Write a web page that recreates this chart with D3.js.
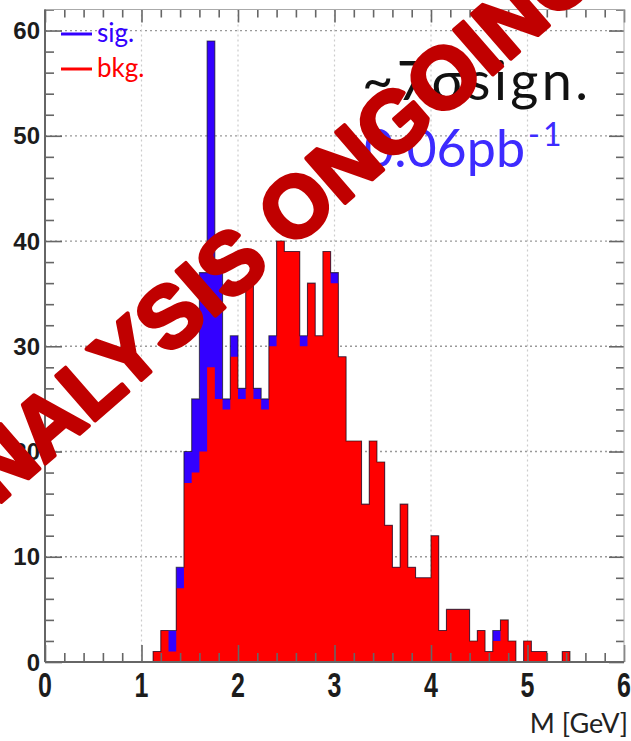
<!DOCTYPE html>
<html>
<head>
<meta charset="utf-8">
<script src="https://cdn.jsdelivr.net/npm/d3@7"></script>
<style>
  body { margin: 0; background: #fff; }
  svg { display: block; }
</style>
</head>
<body>
<svg id="chart" width="631" height="741"></svg>
<script>
// Invariant-mass histogram, 75 bins on [0, 6] GeV (bin width 0.08)
const nBins = 75;
const xMin = 0;
const xMax = 6;
const firstFilledBin = 14;   // bin 14 starts at 1.12 GeV

// background counts per bin, starting at firstFilledBin
const bkgCounts = [
  1, 3, 1, 7, 17, 18, 20, 28, 25, 24,
  29, 25, 36, 25, 24, 30, 40, 39, 39, 30,
  36, 31, 39, 36, 29, 21, 21, 15, 21, 19,
  13, 9, 15, 9, 8, 8, 12, 3, 5, 5,
  5, 2, 3, 1, 2, 4, 2, 0, 2, 1,
  1, 0, 0, 1
];
// signal counts per bin, stacked on top of the background
const sigCounts = [
  0, 0, 2, 2, 3, 7, 17, 31, 12, 1,
  2, 1, 0, 1, 1, 1, 0, 0, 0, 1,
  0, 0, 0, 1, 0, 0, 0, 0, 0, 0,
  0, 0, 0, 0, 0, 0, 0, 0, 0, 0,
  0, 0, 0, 0, 1, 0, 0, 0, 0, 0,
  0, 0, 0, 0
];

const xTickLabels = [0, 1, 2, 3, 4, 5, 6];
const yTickLabels = [0, 10, 20, 30, 40, 50, 60];
const yMax = 62;

const legendItems = [
  { label: "sig.", color: "#3300ff" },
  { label: "bkg.", color: "#ff0000" }
];

const svg = d3.select("#chart");

const frame = { left: 45, right: 624, top: 9.5, bottom: 662 };
const x = d3.scaleLinear().domain([xMin, xMax]).range([frame.left, frame.right]);
const y = d3.scaleLinear().domain([0, yMax]).range([frame.bottom, frame.top]);

const binWidth = (xMax - xMin) / nBins;
const bins = bkgCounts.map((b, i) => {
  const lo = xMin + (firstFilledBin + i) * binWidth;
  return { lo, hi: lo + binWidth, bkg: b, total: b + sigCounts[i] };
});

// ---- grid ----
const grid = svg.append("g");
grid.selectAll("line.gy")
  .data(yTickLabels.filter(v => v > 0))
  .join("line")
  .attr("x1", frame.left).attr("x2", frame.right)
  .attr("y1", d => y(d)).attr("y2", d => y(d))
  .attr("stroke", "#999").attr("stroke-width", 1.3)
  .attr("stroke-dasharray", "2,3");
grid.selectAll("line.gx")
  .data(xTickLabels.filter(v => v > xMin && v < xMax))
  .join("line")
  .attr("x1", d => x(d)).attr("x2", d => x(d))
  .attr("y1", frame.top).attr("y2", frame.bottom)
  .attr("stroke", "#ccc").attr("stroke-width", 1.2)
  .attr("stroke-dasharray", "2,3");

// ---- stacked histogram ----
function stepPoints(key) {
  const pts = [{ x: bins[0].lo, v: 0 }];
  bins.forEach(b => pts.push({ x: b.lo, v: b[key] }));
  const last = bins[bins.length - 1];
  pts.push({ x: last.hi, v: last[key] });
  pts.push({ x: last.hi, v: 0 });
  return pts;
}
const area = d3.area()
  .curve(d3.curveStepAfter)
  .x(d => x(d.x)).y0(y(0)).y1(d => y(d.v));
const line = d3.line()
  .curve(d3.curveStepAfter)
  .x(d => x(d.x)).y(d => y(d.v));

const hist = svg.append("g");
hist.append("path").datum(stepPoints("total"))
  .attr("d", area).attr("fill", "#3300ff");
hist.append("path").datum(stepPoints("bkg"))
  .attr("d", area).attr("fill", "#ff0000");
hist.append("path").datum(stepPoints("total"))
  .attr("d", line).attr("fill", "none")
  .attr("stroke", "#111").attr("stroke-opacity", 0.65).attr("stroke-width", 1.1);

// ---- axes ----
const axisColor = "#666";
function styleAxis(g) {
  g.select(".domain").remove();
  g.selectAll(".tick line").attr("stroke", axisColor).attr("stroke-width", 1.6);
  g.selectAll(".tick text").remove();
}
const minorX = d3.range(xMin, xMax + 1e-9, 0.2).filter(v => Math.abs(v - Math.round(v)) > 1e-6);
const minorY = d3.range(0, yMax + 1e-9, 2).filter(v => v % 10 !== 0);

// bottom
svg.append("g").attr("transform", `translate(0,${frame.bottom})`)
  .call(d3.axisBottom(x).tickValues(xTickLabels).tickSize(-17).tickSizeOuter(0)).call(styleAxis);
svg.append("g").attr("transform", `translate(0,${frame.bottom})`)
  .call(d3.axisBottom(x).tickValues(minorX).tickSize(-9).tickSizeOuter(0)).call(styleAxis);
// top
svg.append("g").attr("transform", `translate(0,${frame.top})`)
  .call(d3.axisTop(x).tickValues(xTickLabels).tickSize(-13).tickSizeOuter(0)).call(styleAxis);
svg.append("g").attr("transform", `translate(0,${frame.top})`)
  .call(d3.axisTop(x).tickValues(minorX).tickSize(-8).tickSizeOuter(0)).call(styleAxis);
// left
svg.append("g").attr("transform", `translate(${frame.left},0)`)
  .call(d3.axisLeft(y).tickValues(yTickLabels).tickSize(-17).tickSizeOuter(0)).call(styleAxis);
svg.append("g").attr("transform", `translate(${frame.left},0)`)
  .call(d3.axisLeft(y).tickValues(minorY).tickSize(-9).tickSizeOuter(0)).call(styleAxis);
// right
svg.append("g").attr("transform", `translate(${frame.right},0)`)
  .call(d3.axisRight(y).tickValues(yTickLabels).tickSize(-15).tickSizeOuter(0)).call(styleAxis);
svg.append("g").attr("transform", `translate(${frame.right},0)`)
  .call(d3.axisRight(y).tickValues(minorY).tickSize(-8).tickSizeOuter(0)).call(styleAxis);

// frame box
svg.append("rect")
  .attr("x", frame.left).attr("y", frame.top)
  .attr("width", frame.right - frame.left).attr("height", frame.bottom - frame.top)
  .attr("fill", "none").attr("stroke", "#aaa").attr("stroke-width", 1);
svg.append("line")
  .attr("x1", frame.left).attr("x2", frame.left).attr("y1", frame.top).attr("y2", frame.bottom)
  .attr("stroke", axisColor).attr("stroke-width", 2);
svg.append("line")
  .attr("x1", frame.left).attr("x2", frame.right).attr("y1", frame.bottom).attr("y2", frame.bottom)
  .attr("stroke", axisColor).attr("stroke-width", 2);

// tick labels
svg.append("g").selectAll("text")
  .data(yTickLabels)
  .join("text")
  .attr("x", frame.left - 5).attr("y", d => y(d))
  .attr("dy", "0.36em")
  .attr("text-anchor", "end")
  .attr("font-family", "'Liberation Sans', Arial, sans-serif")
  .attr("font-weight", "bold").attr("font-size", 24)
  .attr("fill", "#1c1c1c")
  .text(d => d);
svg.append("g").selectAll("text")
  .data(xTickLabels)
  .join("text")
  .attr("transform", d => `translate(${x(d)},${frame.bottom + 35}) scale(1,1.38)`)
  .attr("text-anchor", "middle")
  .attr("font-family", "'Liberation Sans', Arial, sans-serif")
  .attr("font-weight", "bold").attr("font-size", 25)
  .attr("fill", "#1c1c1c")
  .text(d => d);

// axis title
svg.append("text")
  .attr("x", 628).attr("y", 733)
  .attr("text-anchor", "end")
  .attr("font-family", "Lato, 'Open Sans', sans-serif")
  .attr("font-size", 27)
  .attr("fill", "#222")
  .text("M [GeV]");

// legend
const legend = svg.append("g");
legendItems.forEach((item, i) => {
  const ly = 34 + i * 35;
  legend.append("line")
    .attr("x1", 61).attr("x2", 92).attr("y1", ly).attr("y2", ly)
    .attr("stroke", item.color).attr("stroke-width", 3);
  legend.append("text")
    .attr("x", 97).attr("y", ly + 8)
    .attr("font-family", "Lato, 'Open Sans', sans-serif")
    .attr("font-size", 26)
    .attr("fill", item.color)
    .text(item.label);
});

// significance and luminosity annotation
svg.append("text")
  .attr("x", 362).attr("y", 100)
  .attr("font-family", "Lato, 'Open Sans', sans-serif")
  .attr("font-size", 54)
  .attr("textLength", 226)
  .attr("lengthAdjust", "spacing")
  .attr("fill", "#111")
  .text("~7σsign.");
const lumi = svg.append("text")
  .attr("x", 364).attr("y", 167)
  .attr("font-family", "Lato, 'Open Sans', sans-serif")
  .attr("font-size", 52)
  .attr("fill", "#3d2bff");
lumi.append("tspan").text("0.06pb");
lumi.append("tspan").attr("font-size", 32).attr("dx", 3).attr("dy", -21)
  .attr("letter-spacing", 3).text("-1");

// status stamp across the plot
svg.append("g")
  .attr("transform", "translate(256,238) rotate(-41)")
  .append("text")
  .attr("x", 0).attr("y", 32)
  .attr("text-anchor", "middle")
  .attr("font-family", "'Liberation Sans', Arial, sans-serif")
  .attr("font-weight", "bold").attr("font-size", 86)
  .attr("fill", "#c00000")
  .attr("stroke", "#c00000").attr("stroke-width", 4).attr("stroke-linejoin", "round")
  .text("ANALYSIS ONGOING");
</script>
</body>
</html>
